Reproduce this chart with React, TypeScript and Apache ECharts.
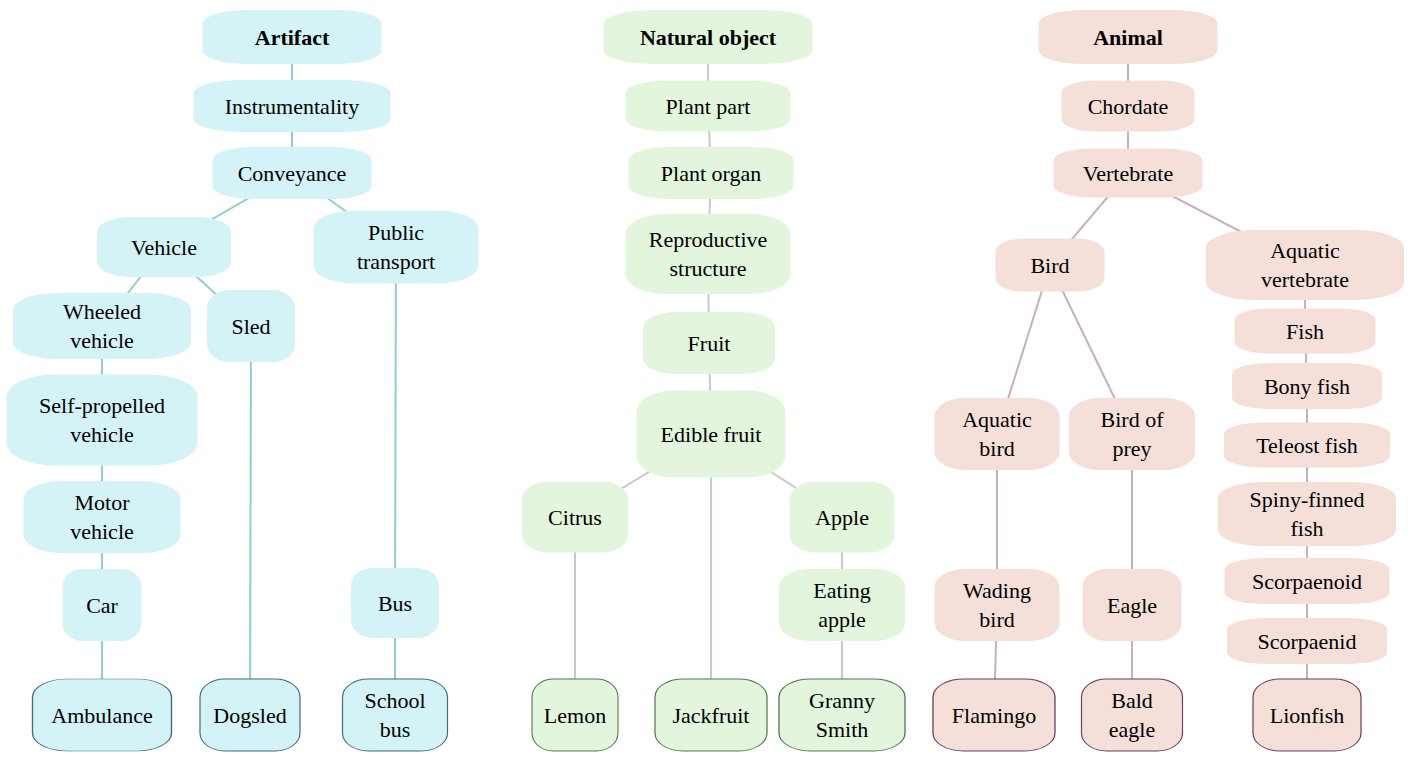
import React, { useEffect, useRef } from "react";
import * as echarts from "echarts";

// name, x, y, width, height, group (0 artifact, 1 natural, 2 animal), kind (0 root, 1 inner, 2 leaf)
const nodes: [string, number, number, number, number, number, number][] = [
  ["Artifact", 292, 37, 179, 54, 0, 0],
  ["Instrumentality", 292, 106, 197, 52, 0, 1],
  ["Conveyance", 292, 173, 159, 52, 0, 1],
  ["Vehicle", 164, 247, 134, 60, 0, 1],
  ["Public\ntransport", 396, 247, 165, 73, 0, 1],
  ["Wheeled\nvehicle", 102, 326, 178, 66, 0, 1],
  ["Sled", 251, 326, 88, 72, 0, 1],
  ["Self-propelled\nvehicle", 102, 420, 191, 91, 0, 1],
  ["Motor\nvehicle", 102, 517, 157, 72, 0, 1],
  ["Car", 102, 605, 79, 72, 0, 1],
  ["Bus", 395, 603, 88, 70, 0, 1],
  ["Ambulance", 102, 715, 139, 72, 0, 2],
  ["Dogsled", 250, 715, 100, 72, 0, 2],
  ["School\nbus", 395, 715, 105, 72, 0, 2],
  ["Natural object", 708, 37, 209, 54, 1, 0],
  ["Plant part", 708, 106, 165, 51, 1, 1],
  ["Plant organ", 711, 173, 165, 52, 1, 1],
  ["Reproductive\nstructure", 708, 254, 165, 80, 1, 1],
  ["Fruit", 709, 343, 132, 62, 1, 1],
  ["Edible fruit", 711, 434, 149, 87, 1, 1],
  ["Citrus", 575, 517, 106, 71, 1, 1],
  ["Apple", 842, 517, 105, 71, 1, 1],
  ["Eating\napple", 842, 605, 126, 72, 1, 1],
  ["Lemon", 575, 715, 86, 72, 1, 2],
  ["Jackfruit", 711, 715, 112, 72, 1, 2],
  ["Granny\nSmith", 842, 715, 126, 72, 1, 2],
  ["Animal", 1128, 37, 179, 54, 2, 0],
  ["Chordate", 1128, 106, 133, 51, 2, 1],
  ["Vertebrate", 1128, 173, 149, 49, 2, 1],
  ["Bird", 1050, 265, 109, 53, 2, 1],
  ["Aquatic\nvertebrate", 1305, 265, 198, 70, 2, 1],
  ["Aquatic\nbird", 997, 434, 125, 72, 2, 1],
  ["Bird of\nprey", 1132, 434, 126, 72, 2, 1],
  ["Wading\nbird", 997, 605, 125, 72, 2, 1],
  ["Eagle", 1132, 605, 99, 72, 2, 1],
  ["Flamingo", 994, 715, 122, 72, 2, 2],
  ["Bald\neagle", 1132, 715, 101, 72, 2, 2],
  ["Fish", 1305, 331, 141, 45, 2, 1],
  ["Bony fish", 1307, 386, 150, 46, 2, 1],
  ["Teleost fish", 1307, 445, 166, 45, 2, 1],
  ["Spiny-finned\nfish", 1307, 514, 178, 64, 2, 1],
  ["Scorpaenoid", 1307, 581, 165, 46, 2, 1],
  ["Scorpaenid", 1307, 641, 160, 46, 2, 1],
  ["Lionfish", 1307, 715, 108, 72, 2, 2],
];

const edges: [string, string][] = [
  ["Artifact", "Instrumentality"], ["Instrumentality", "Conveyance"],
  ["Conveyance", "Vehicle"], ["Conveyance", "Public\ntransport"],
  ["Vehicle", "Wheeled\nvehicle"], ["Vehicle", "Sled"],
  ["Wheeled\nvehicle", "Self-propelled\nvehicle"], ["Self-propelled\nvehicle", "Motor\nvehicle"],
  ["Motor\nvehicle", "Car"], ["Car", "Ambulance"], ["Sled", "Dogsled"],
  ["Public\ntransport", "Bus"], ["Bus", "School\nbus"],
  ["Natural object", "Plant part"], ["Plant part", "Plant organ"],
  ["Plant organ", "Reproductive\nstructure"], ["Reproductive\nstructure", "Fruit"],
  ["Fruit", "Edible fruit"], ["Edible fruit", "Citrus"], ["Edible fruit", "Apple"],
  ["Edible fruit", "Jackfruit"], ["Citrus", "Lemon"], ["Apple", "Eating\napple"],
  ["Eating\napple", "Granny\nSmith"],
  ["Animal", "Chordate"], ["Chordate", "Vertebrate"], ["Vertebrate", "Bird"],
  ["Vertebrate", "Aquatic\nvertebrate"], ["Bird", "Aquatic\nbird"], ["Bird", "Bird of\nprey"],
  ["Aquatic\nbird", "Wading\nbird"], ["Wading\nbird", "Flamingo"],
  ["Bird of\nprey", "Eagle"], ["Eagle", "Bald\neagle"],
  ["Aquatic\nvertebrate", "Fish"], ["Fish", "Bony fish"], ["Bony fish", "Teleost fish"],
  ["Teleost fish", "Spiny-finned\nfish"], ["Spiny-finned\nfish", "Scorpaenoid"],
  ["Scorpaenoid", "Scorpaenid"], ["Scorpaenid", "Lionfish"],
];

const fills = ["#d3f3f6", "#e3f5dc", "#f4dfd9"];
const edgeColors = ["#8fcfd2", "#c3cdc3", "#c9b0b8"];
const leafBorders = ["#3f6f78", "#4f7a4f", "#6a3f5c"];

const App: React.FC = () => {
  const ref = useRef<HTMLDivElement>(null);

  useEffect(() => {
    if (!ref.current) return;
    const chart = echarts.init(ref.current, undefined, { renderer: "svg" });
    const groupOf: Record<string, number> = {};
    nodes.forEach((n) => (groupOf[n[0]] = n[5]));

    chart.setOption({
      animation: false,
      grid: { left: 0, right: 0, top: 0, bottom: 0 },
      xAxis: { type: "value", min: 0, max: 1420, show: false },
      yAxis: { type: "value", min: 0, max: 760, inverse: true, show: false },
      series: [
        {
          type: "graph",
          coordinateSystem: "cartesian2d",
          layout: "none",
          symbol: "roundRect",
          data: nodes.map(([name, x, y, w, h, g, k]) => ({
            name,
            value: [x, y],
            symbolSize: [w, h],
            itemStyle: {
              color: fills[g],
              borderColor: k === 2 ? leafBorders[g] : fills[g],
              borderWidth: k === 2 ? 1 : 0,
            },
            label: {
              show: true,
              position: "inside",
              color: "#000",
              fontFamily: "Liberation Serif",
              fontSize: 22,
              lineHeight: 29,
              fontWeight: k === 0 ? "bold" : "normal",
              align: "center",
            },
          })),
          links: edges.map(([s, t]) => ({
            source: s,
            target: t,
            lineStyle: { color: edgeColors[groupOf[s]], width: 2, opacity: 1, curveness: 0 },
          })),
          edgeSymbol: ["none", "none"],
        },
      ],
    });
    return () => chart.dispose();
  }, []);

  return (
    <div
      ref={ref}
      style={{ position: "absolute", left: 0, top: 0, width: 1420, height: 760, background: "#fff" }}
    />
  );
};

export default App;
